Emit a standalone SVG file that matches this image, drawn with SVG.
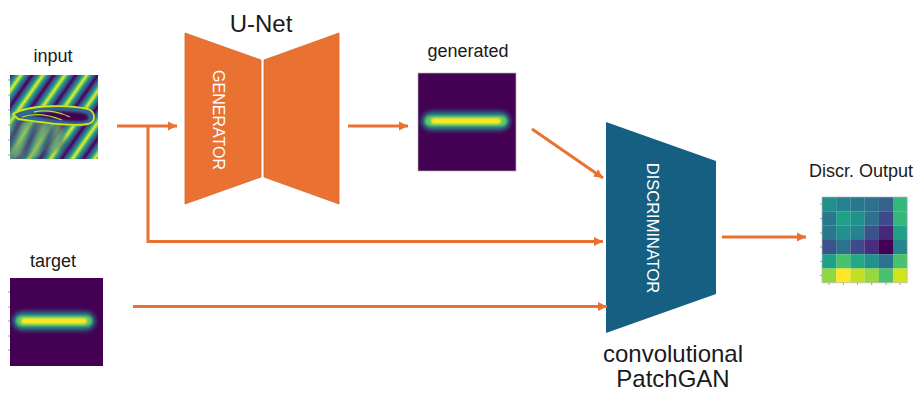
<svg xmlns="http://www.w3.org/2000/svg" width="918" height="397" viewBox="0 0 918 397">
  <defs>
    <style>
      .lbl{font-family:"Liberation Sans",Arial,Helvetica,sans-serif;fill:#1a1a1a;text-anchor:middle}
      .sm{font-size:18px}
      .lg{font-size:24px}
      .vert{font-family:"Liberation Sans",Arial,Helvetica,sans-serif;fill:#ffffff;text-anchor:middle;dominant-baseline:central}
      .conn{fill:none;stroke:#E97132;stroke-width:3}
      .gen{fill:#E97132;stroke:#d5642a;stroke-width:0.8}
      .disc{fill:#156082}
      .frame{fill:none;stroke:#b8b8b8;stroke-width:0.7}
      .tick{stroke:#8a8a8a;stroke-width:0.8}
      .bg{fill:#440154}
    </style>
    <marker id="head" viewBox="0 0 10 10" refX="10" refY="5" markerWidth="9" markerHeight="10" markerUnits="userSpaceOnUse" orient="auto">
      <path d="M0,0 L10,5 L0,10 Z" fill="#E97132"/>
    </marker>
    <!-- diagonal viridis wave field -->
    <linearGradient id="wave" gradientUnits="userSpaceOnUse" x1="10" y1="75" x2="24.8" y2="85.3" spreadMethod="repeat">
      <stop offset="0" stop-color="#440154"/>
      <stop offset="0.15" stop-color="#3b528b"/>
      <stop offset="0.3" stop-color="#21918c"/>
      <stop offset="0.4" stop-color="#5ec962"/>
      <stop offset="0.5" stop-color="#fde725"/>
      <stop offset="0.6" stop-color="#5ec962"/>
      <stop offset="0.7" stop-color="#21918c"/>
      <stop offset="0.85" stop-color="#3b528b"/>
      <stop offset="1" stop-color="#440154"/>
    </linearGradient>
    <!-- steeper band field below the distortion -->
    <linearGradient id="wave2" gradientUnits="userSpaceOnUse" x1="10" y1="120" x2="26" y2="125" spreadMethod="repeat">
      <stop offset="0" stop-color="#fde725"/>
      <stop offset="0.1" stop-color="#5ec962"/>
      <stop offset="0.2" stop-color="#21918c"/>
      <stop offset="0.35" stop-color="#3b528b"/>
      <stop offset="0.5" stop-color="#440154"/>
      <stop offset="0.65" stop-color="#3b528b"/>
      <stop offset="0.8" stop-color="#21918c"/>
      <stop offset="0.9" stop-color="#5ec962"/>
      <stop offset="1" stop-color="#fde725"/>
    </linearGradient>
    <filter id="glow" x="-20%" y="-150%" width="140%" height="400%">
      <feGaussianBlur stdDeviation="2.4"/>
    </filter>
    <filter id="soft" x="-20%" y="-150%" width="140%" height="400%">
      <feGaussianBlur stdDeviation="1"/>
    </filter>
    <filter id="feather" x="-20%" y="-20%" width="140%" height="140%">
      <feGaussianBlur stdDeviation="3"/>
    </filter>
    <clipPath id="clipIn"><rect x="10" y="75" width="88" height="84"/></clipPath>
  </defs>

  <!-- input field -->
  <g id="node-input">
    <text class="lbl sm" x="53" y="62">input</text>
    <g clip-path="url(#clipIn)">
      <rect x="10" y="75" width="88" height="84" fill="url(#wave)"/>
      <path d="M6,124 C25,118 45,120 62,124 L66,150 C50,156 30,158 6,160 Z" fill="url(#wave2)" filter="url(#feather)" opacity="0.75"/>
      <path d="M13,114 C30,104 70,105 88,109 C96,112 96,122 88,124 C70,127 40,122 18,119 Z" fill="#21918c" filter="url(#soft)"/>
      <path d="M13,114 C30,104 70,105 88,109 C96,112 96,122 88,124 C70,127 40,122 18,119 Z" fill="#31688e" stroke="#d8e219" stroke-width="1.8"/>
      <path d="M30,115 C45,110 75,111 86,114 C90,117 88,121 83,121 C70,122 50,119 30,115 Z" fill="#440154" filter="url(#soft)"/>
      <path d="M22,117 C36,112 52,116 62,120 M34,112 C48,109 62,113 70,117" fill="none" stroke="#b5de2b" stroke-width="1.3"/>
    </g>
    <path class="tick" d="M8,80 H10 M8,95 H10 M8,110 H10 M8,125 H10 M8,140 H10 M8,155 H10"/>
  </g>

  <!-- U-Net generator -->
  <g id="node-generator">
    <text class="lbl lg" x="261" y="32">U-Net</text>
    <polygon class="gen" points="185,33 261,60 261,177 185,204"/>
    <polygon class="gen" points="264,60 339,33 339,204 264,177"/>
    <text class="vert" font-size="16" transform="translate(218.5,120) rotate(90)">GENERATOR</text>
  </g>

  <!-- generated sample -->
  <g id="node-generated">
    <text class="lbl sm" x="468" y="57">generated</text>
    <rect class="bg" x="418" y="73" width="98" height="98"/>
    <rect x="422" y="112" width="88" height="18" rx="9" fill="#21918c" filter="url(#glow)"/>
    <rect x="425" y="116" width="82" height="10" rx="5" fill="#5ec962" filter="url(#soft)"/>
    <rect x="431" y="118" width="70" height="6" rx="3" fill="#fde725" filter="url(#soft)"/>
    <rect class="frame" x="418" y="73" width="98" height="98"/>
  </g>

  <!-- target sample -->
  <g id="node-target">
    <text class="lbl sm" x="53" y="267">target</text>
    <rect class="bg" x="10" y="278" width="93" height="88"/>
    <rect x="13" y="312" width="82" height="18" rx="9" fill="#21918c" filter="url(#glow)"/>
    <rect x="16" y="316" width="76" height="10" rx="5" fill="#5ec962" filter="url(#soft)"/>
    <rect x="21" y="318" width="66" height="6" rx="3" fill="#fde725" filter="url(#soft)"/>
    <path class="tick" d="M8,292 H10 M8,307 H10 M8,321 H10 M8,336 H10 M8,350 H10"/>
  </g>

  <!-- PatchGAN discriminator -->
  <g id="node-discriminator">
    <polygon class="disc" points="606,122 716,161 716,294 606,333"/>
    <text class="vert" font-size="16.5" transform="translate(653,228) rotate(90)">DISCRIMINATOR</text>
    <text class="lbl lg" x="673" y="362">convolutional</text>
    <text class="lbl lg" x="673" y="387">PatchGAN</text>
  </g>

  <!-- patch output map -->
  <g id="node-output">
    <text class="lbl sm" x="861" y="177">Discr. Output</text>
    <g transform="translate(822,197)">
      <rect x="0" y="0" width="14.3" height="14.4" fill="#21908d"/>
      <rect x="14.2" y="0" width="14.3" height="14.4" fill="#26828e"/>
      <rect x="28.4" y="0" width="14.3" height="14.4" fill="#2a788e"/>
      <rect x="42.6" y="0" width="14.3" height="14.4" fill="#2c728e"/>
      <rect x="56.8" y="0" width="14.3" height="14.4" fill="#33638d"/>
      <rect x="71" y="0" width="14.2" height="14.4" fill="#35b779"/>

      <rect x="0" y="14.3" width="14.3" height="14.4" fill="#2a788e"/>
      <rect x="14.2" y="14.3" width="14.3" height="14.4" fill="#1fa187"/>
      <rect x="28.4" y="14.3" width="14.3" height="14.4" fill="#21918c"/>
      <rect x="42.6" y="14.3" width="14.3" height="14.4" fill="#2c728e"/>
      <rect x="56.8" y="14.3" width="14.3" height="14.4" fill="#3e4a89"/>
      <rect x="71" y="14.3" width="14.2" height="14.4" fill="#35b779"/>

      <rect x="0" y="28.6" width="14.3" height="14.4" fill="#2a788e"/>
      <rect x="14.2" y="28.6" width="14.3" height="14.4" fill="#22908d"/>
      <rect x="28.4" y="28.6" width="14.3" height="14.4" fill="#26828e"/>
      <rect x="42.6" y="28.6" width="14.3" height="14.4" fill="#3b528b"/>
      <rect x="56.8" y="28.6" width="14.3" height="14.4" fill="#482878"/>
      <rect x="71" y="28.6" width="14.2" height="14.4" fill="#1fa187"/>

      <rect x="0" y="42.9" width="14.3" height="14.4" fill="#3b528b"/>
      <rect x="14.2" y="42.9" width="14.3" height="14.4" fill="#2c728e"/>
      <rect x="28.4" y="42.9" width="14.3" height="14.4" fill="#3e4a89"/>
      <rect x="42.6" y="42.9" width="14.3" height="14.4" fill="#472d7b"/>
      <rect x="56.8" y="42.9" width="14.3" height="14.4" fill="#440154"/>
      <rect x="71" y="42.9" width="14.2" height="14.4" fill="#25858e"/>

      <rect x="0" y="57.2" width="14.3" height="14.4" fill="#1fa187"/>
      <rect x="14.2" y="57.2" width="14.3" height="14.4" fill="#4ac16d"/>
      <rect x="28.4" y="57.2" width="14.3" height="14.4" fill="#22a884"/>
      <rect x="42.6" y="57.2" width="14.3" height="14.4" fill="#20938c"/>
      <rect x="56.8" y="57.2" width="14.3" height="14.4" fill="#2c728e"/>
      <rect x="71" y="57.2" width="14.2" height="14.4" fill="#4ac16d"/>

      <rect x="0" y="71.5" width="14.3" height="14.3" fill="#90d743"/>
      <rect x="14.2" y="71.5" width="14.3" height="14.3" fill="#fde725"/>
      <rect x="28.4" y="71.5" width="14.3" height="14.3" fill="#c2df23"/>
      <rect x="42.6" y="71.5" width="14.3" height="14.3" fill="#95d840"/>
      <rect x="56.8" y="71.5" width="14.3" height="14.3" fill="#4ac16d"/>
      <rect x="71" y="71.5" width="14.2" height="14.3" fill="#d2e21b"/>
      <rect class="frame" x="0" y="0" width="85.2" height="85.8"/>
      <path class="tick" d="M-2,7 H0 M-2,21.5 H0 M-2,36 H0 M-2,50 H0 M-2,64.5 H0 M-2,78.5 H0 M7,85.8 V88 M21.3,85.8 V88 M35.5,85.8 V88 M49.7,85.8 V88 M64,85.8 V88 M78,85.8 V88"/>
    </g>
  </g>

  <!-- connectors -->
  <g id="connectors">
    <path class="conn" d="M117,126 H177" marker-end="url(#head)"/>
    <path class="conn" d="M148,126 V241.5 H603" marker-end="url(#head)"/>
    <path class="conn" d="M348,126 H408" marker-end="url(#head)"/>
    <path class="conn" d="M532,129 L603,178" marker-end="url(#head)"/>
    <path class="conn" d="M133,306.5 H607" marker-end="url(#head)"/>
    <path class="conn" d="M722,237 H806" marker-end="url(#head)"/>
  </g>
</svg>
